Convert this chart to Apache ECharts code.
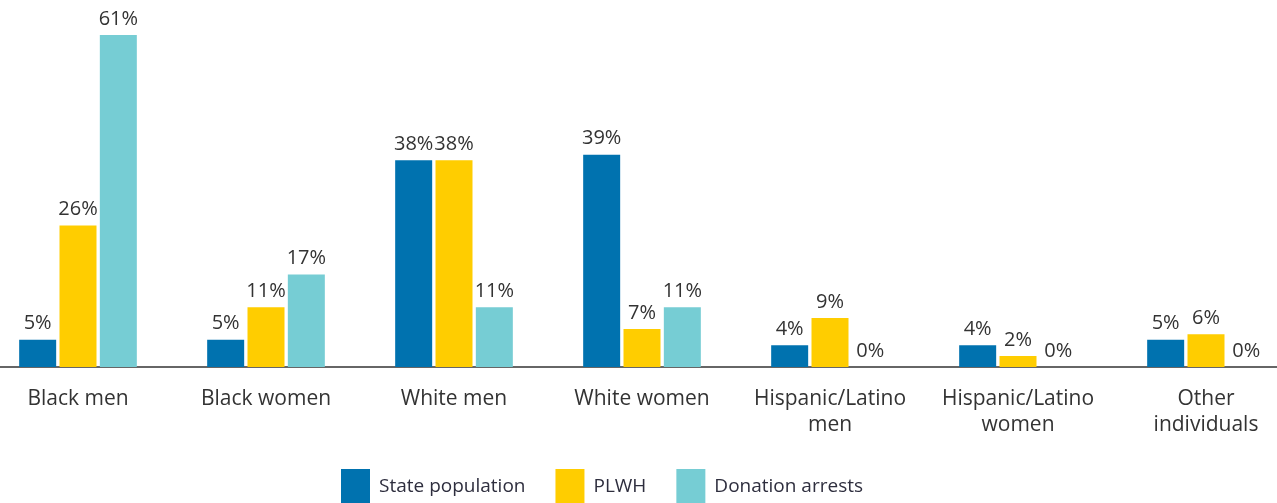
<!DOCTYPE html>
<html>
<head>
<meta charset="utf-8">
<script src="https://cdn.jsdelivr.net/npm/echarts@6/dist/echarts.min.js"></script>
<style>
  html, body { margin: 0; padding: 0; background: #fff; }
  #chart { width: 1277px; height: 503px; }
</style>
</head>
<body>
<div id="chart"></div>
<script>
var categories = [
  "Black men",
  "Black women",
  "White men",
  "White women",
  "Hispanic/Latino\nmen",
  "Hispanic/Latino\nwomen",
  "Other\nindividuals"
];
var statePopulation = [5, 5, 38, 39, 4, 4, 5];
var plwh = [26, 11, 38, 7, 9, 2, 6];
var donationArrests = [61, 17, 11, 11, 0, 0, 0];

var chart = echarts.init(document.getElementById("chart"));
var labelStyle = {
  show: true,
  position: "top",
  distance: 6,
  formatter: "{c}%",
  color: "#333333",
  fontSize: 20,
  fontFamily: "Open Sans"
};
var option = {
  animation: false,
  textStyle: { fontFamily: "Open Sans" },
  grid: {
    left: -16,
    width: 1316,
    top: 35,
    bottom: 136,
    containLabel: false,
    outerBoundsMode: "none"
  },
  legend: {
    left: 341,
    top: 469,
    padding: 0,
    icon: "rect",
    itemWidth: 29,
    itemHeight: 36,
    itemGap: 30,
    textStyle: {
      color: "#2e2e3e",
      fontSize: 19,
      fontFamily: "Open Sans",
      padding: [0, 0, 0, 4]
    },
    data: ["State population", "PLWH", "Donation arrests"]
  },
  xAxis: {
    type: "category",
    data: categories,
    axisLine: { lineStyle: { color: "#333333", width: 1.5 } },
    axisTick: { show: false },
    axisLabel: {
      interval: 0,
      margin: 19,
      color: "#333333",
      fontSize: 21,
      lineHeight: 26,
      fontFamily: "Open Sans"
    }
  },
  yAxis: {
    type: "value",
    min: 0,
    max: 61,
    show: false,
    splitLine: { show: false }
  },
  series: [
    {
      name: "State population",
      type: "bar",
      barWidth: 37,
      barGap: "9%",
      data: statePopulation,
      itemStyle: { color: "#0072AF" },
      label: labelStyle
    },
    {
      name: "PLWH",
      type: "bar",
      barWidth: 37,
      barGap: "9%",
      data: plwh,
      itemStyle: { color: "#FFCD00" },
      label: labelStyle
    },
    {
      name: "Donation arrests",
      type: "bar",
      barWidth: 37,
      barGap: "9%",
      data: donationArrests,
      itemStyle: { color: "#76CDD4" },
      label: labelStyle
    }
  ]
};
chart.setOption(option);
</script>
</body>
</html>
